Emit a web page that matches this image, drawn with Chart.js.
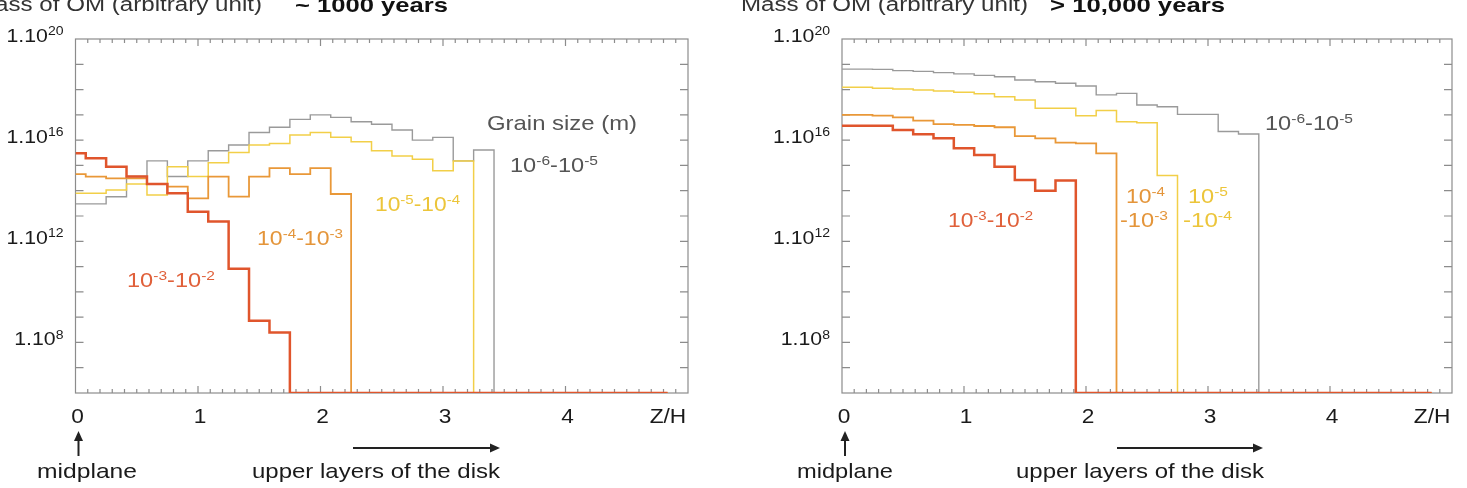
<!DOCTYPE html>
<html lang="en">
<head>
<meta charset="UTF-8">
<title>Mass of OM versus Z/H</title>
<script src="https://cdn.jsdelivr.net/npm/chart.js"></script>
<style>
    html, body { margin: 0; padding: 0; background: #fff; }
    #wrap { position: relative; width: 1467px; height: 488px; overflow: hidden; }
    .panel { position: absolute; top: 0; height: 488px; }
    #left { left: 0; width: 733px; }
    #right { left: 733px; width: 734px; }
</style>
</head>
<body>
<div id="wrap">
    <div class="panel" id="left"><canvas id="c1" width="733" height="488"></canvas></div>
    <div class="panel" id="right"><canvas id="c2" width="734" height="488"></canvas></div>
</div>
<script>
// bin centres along Z/H
const zBins = [0, 0.167, 0.333, 0.5, 0.667, 0.833, 1, 1.167, 1.333, 1.5,
               1.667, 1.833, 2, 2.167, 2.333, 2.5, 2.667, 2.833, 3, 3.167,
               3.333, 3.5, 3.667, 3.833, 4, 4.167, 4.333, 4.5, 4.667, 4.833];

// log10(mass of OM), ~1000 years; 6 = empty bin (bottom of the axis)
const red1000    = [15.48, 15.28, 14.95, 14.56, 14.27, 13.90, 13.17, 12.78, 10.91, 8.86,
                    8.39, 6, 6, 6, 6, 6, 6, 6, 6, 6, 6, 6, 6, 6, 6, 6, 6, 6, 6, 6];
const orange1000 = [14.66, 14.56, 14.49, 14.49, 14.27, 14.16, 13.70, 14.56, 13.77, 14.56,
                    14.89, 14.66, 14.89, 13.87, 6, 6, 6, 6, 6, 6, 6, 6, 6, 6, 6, 6, 6, 6, 6, 6];
const yellow1000 = [13.90, 13.90, 14.03, 14.27, 13.83, 14.95, 14.56, 15.11, 15.51, 15.81,
                    15.87, 16.20, 16.30, 16.11, 15.94, 15.58, 15.37, 15.24, 14.79, 15.18,
                    6, 6, 6, 6, 6, 6, 6, 6, 6, 6];
const gray1000   = [13.48, 13.48, 13.76, 14.56, 15.18, 14.56, 15.18, 15.58, 15.81, 16.30,
                    16.51, 16.82, 17.00, 16.90, 16.73, 16.63, 16.40, 16.00, 16.11, 15.18,
                    15.61, 6, 6, 6, 6, 6, 6, 6, 6, 6];

// log10(mass of OM), > 10,000 years
const red10k    = [16.57, 16.57, 16.57, 16.40, 16.23, 16.07, 15.68, 15.41, 14.95, 14.42,
                   14.00, 14.40, 6, 6, 6, 6, 6, 6, 6, 6, 6, 6, 6, 6, 6, 6, 6, 6, 6, 6];
const orange10k = [17.00, 17.00, 16.97, 16.90, 16.77, 16.63, 16.60, 16.56, 16.51, 16.16,
                   16.07, 15.90, 15.87, 15.48, 6, 6, 6, 6, 6, 6, 6, 6, 6, 6, 6, 6, 6, 6, 6, 6];
const yellow10k = [18.09, 18.09, 18.05, 18.02, 17.98, 17.94, 17.89, 17.83, 17.72, 17.59,
                   17.26, 17.26, 16.96, 17.17, 16.73, 16.69, 14.60, 6, 6, 6, 6, 6, 6, 6, 6, 6, 6, 6, 6, 6];
const gray10k   = [18.81, 18.81, 18.80, 18.75, 18.72, 18.67, 18.62, 18.56, 18.51, 18.38,
                   18.31, 18.25, 18.14, 17.79, 17.85, 17.39, 17.32, 17.02, 17.02, 16.34,
                   16.24, 6, 6, 6, 6, 6, 6, 6, 6, 6];

const yTickValues = [20, 16, 12, 8];
const yTickLabels = ['1.10^{20}', '1.10^{16}', '1.10^{12}', '1.10^{8}'];
const xTickValues = [0, 1, 2, 3, 4, 4.82];
const xTickLabels = ['0', '1', '2', '3', '4', 'Z/H'];

const FONT = '"Liberation Sans", Arial, Helvetica, sans-serif';
const RED = '#e0552c', ORANGE = '#e99838', YELLOW = '#f2cf48', GRAY = '#9a9a9a';
const FRAME = '#8c8c8c';

// draws text with ^{...} superscripts, optionally stretched to a width
function drawRich(ctx, s, x, y, o) {
    const size = o.size || 20, sub = size * 0.66;
    const parts = s.split(/(\^\{[^}]*\})/).filter(p => p.length).map(p =>
        p.startsWith('^{') ? { t: p.slice(2, -1), sup: true } : { t: p, sup: false });
    const weight = o.bold ? 'bold ' : '';
    let w = 0;
    parts.forEach(p => {
        ctx.font = weight + (p.sup ? sub : size) + 'px ' + FONT;
        p.w = ctx.measureText(p.t).width;
        w += p.w;
    });
    const sx = o.w ? o.w / w : (o.sx || 1);
    let x0 = x;
    if (o.align === 'right') x0 = x - w * sx;
    else if (o.align === 'center') x0 = x - w * sx / 2;
    ctx.save();
    ctx.translate(x0, y);
    ctx.scale(sx, 1);
    ctx.fillStyle = o.color || '#333';
    ctx.textBaseline = 'alphabetic';
    ctx.textAlign = 'left';
    let cx = 0;
    parts.forEach(p => {
        ctx.font = weight + (p.sup ? sub : size) + 'px ' + FONT;
        ctx.fillText(p.t, cx, p.sup ? -size * 0.36 : 0);
        cx += p.w;
    });
    ctx.restore();
}

function arrow(ctx, x1, y1, x2, y2) {
    const ang = Math.atan2(y2 - y1, x2 - x1), hl = 10, hw = 4.5;
    ctx.save();
    ctx.strokeStyle = '#222';
    ctx.fillStyle = '#222';
    ctx.lineWidth = 2;
    ctx.beginPath();
    ctx.moveTo(x1, y1);
    ctx.lineTo(x2 - Math.cos(ang) * hl, y2 - Math.sin(ang) * hl);
    ctx.stroke();
    ctx.beginPath();
    ctx.moveTo(x2, y2);
    ctx.lineTo(x2 - Math.cos(ang) * hl - Math.sin(ang) * hw, y2 - Math.sin(ang) * hl + Math.cos(ang) * hw);
    ctx.lineTo(x2 - Math.cos(ang) * hl + Math.sin(ang) * hw, y2 - Math.sin(ang) * hl - Math.cos(ang) * hw);
    ctx.closePath();
    ctx.fill();
    ctx.restore();
}

function makeDecor(panel) {
    return {
        id: 'decor',
        beforeDatasetsDraw(chart) {
            const { ctx, chartArea: a, scales: { x, y } } = chart;
            ctx.save();
            ctx.strokeStyle = FRAME;
            ctx.lineWidth = 1.2;
            ctx.strokeRect(a.left, a.top, a.right - a.left, a.bottom - a.top);
            ctx.beginPath();
            for (let e = 7; e < 20; e++) {
                const py = y.getPixelForValue(e);
                ctx.moveTo(a.left, py); ctx.lineTo(a.left + 8, py);
                ctx.moveTo(a.right, py); ctx.lineTo(a.right - 8, py);
            }
            for (let k = 1; k < 50; k++) {
                const px = x.getPixelForValue(k / 10);
                const len = k % 10 === 0 ? 7 : 4;
                ctx.moveTo(px, a.bottom); ctx.lineTo(px, a.bottom - len);
                ctx.moveTo(px, a.top); ctx.lineTo(px, a.top + len);
            }
            ctx.stroke();
            ctx.restore();
        },
        afterDraw(chart) {
            const { ctx, chartArea: a, scales: { x, y } } = chart;
            yTickValues.forEach((v, i) => {
                drawRich(ctx, yTickLabels[i], a.left - 12, y.getPixelForValue(v) + 3,
                         { size: 19, sx: 1.12, align: 'right', color: '#1a1a1a' });
            });
            xTickValues.forEach((v, i) => {
                drawRich(ctx, xTickLabels[i], x.getPixelForValue(v) + 2, 423,
                         { size: 21, sx: 1.08, align: 'center', color: '#1a1a1a' });
            });
            panel.texts.forEach(t => drawRich(ctx, t.t, t.x, t.y, t));
            const x0 = x.getPixelForValue(0) + 3;
            arrow(ctx, x0, 456, x0, 431);
            arrow(ctx, panel.arrow[0], 448, panel.arrow[1], 448);
        }
    };
}

function series(vals, color, width) {
    return {
        data: zBins.map((z, i) => ({ x: z, y: vals[i] })),
        borderColor: color,
        borderWidth: width,
        stepped: 'middle',
        pointRadius: 0,
        fill: false
    };
}

function makeChart(id, sets, pad, panel) {
    return new Chart(document.getElementById(id), {
        type: 'line',
        data: { datasets: [
            series(sets[0], RED, 2.5),
            series(sets[1], ORANGE, 1.8),
            series(sets[2], YELLOW, 1.5),
            series(sets[3], GRAY, 1.4)
        ] },
        options: {
            responsive: false,
            animation: false,
            layout: { padding: pad },
            plugins: { legend: { display: false }, tooltip: { enabled: false } },
            scales: {
                x: { type: 'linear', min: 0, max: 5, display: false },
                y: { type: 'linear', min: 6, max: 20, display: false }
            }
        },
        plugins: [makeDecor(panel)]
    });
}

makeChart('c1', [red1000, orange1000, yellow1000, gray1000],
    { left: 75.5, top: 39, right: 45, bottom: 95 },
    {
        arrow: [353, 500],
        texts: [
            { t: 'Mass of OM (arbitrary unit)', x: 262, y: 11, size: 20, w: 287, align: 'right', color: '#333' },
            { t: '~ 1000 years', x: 295, y: 12, size: 21, w: 153, bold: true, color: '#111' },
            { t: 'Grain size (m)', x: 487, y: 130, size: 21, w: 150, color: '#555' },
            { t: '10^{-6}-10^{-5}', x: 510, y: 172, size: 20, w: 88, color: '#555' },
            { t: '10^{-5}-10^{-4}', x: 375, y: 211, size: 20, w: 85, color: '#ecc53a' },
            { t: '10^{-4}-10^{-3}', x: 257, y: 245, size: 20, w: 86, color: '#e4953a' },
            { t: '10^{-3}-10^{-2}', x: 127, y: 287, size: 20, w: 88, color: '#e0603a' },
            { t: 'midplane', x: 37, y: 478, size: 21, w: 100, color: '#1a1a1a' },
            { t: 'upper layers of the disk', x: 252, y: 478, size: 21, w: 248, color: '#1a1a1a' }
        ]
    });

makeChart('c2', [red10k, orange10k, yellow10k, gray10k],
    { left: 109, top: 39, right: 15, bottom: 95 },
    {
        arrow: [384, 530],
        texts: [
            { t: 'Mass of OM (arbitrary unit)', x: 8, y: 11, size: 20, w: 287, color: '#333' },
            { t: '> 10,000 years', x: 317, y: 12, size: 21, w: 175, bold: true, color: '#111' },
            { t: '10^{-6}-10^{-5}', x: 532, y: 130, size: 20, w: 88, color: '#555' },
            { t: '10^{-3}-10^{-2}', x: 215, y: 227, size: 20, w: 85, color: '#e0603a' },
            { t: '10^{-4}', x: 393, y: 203, size: 20, w: 39, color: '#e4953a' },
            { t: '-10^{-3}', x: 387, y: 227, size: 20, w: 48, color: '#e4953a' },
            { t: '10^{-5}', x: 455, y: 203, size: 20, w: 40, color: '#ecc53a' },
            { t: '-10^{-4}', x: 450, y: 227, size: 20, w: 49, color: '#ecc53a' },
            { t: 'midplane', x: 64, y: 478, size: 21, w: 96, color: '#1a1a1a' },
            { t: 'upper layers of the disk', x: 283, y: 478, size: 21, w: 248, color: '#1a1a1a' }
        ]
    });
</script>
</body>
</html>
